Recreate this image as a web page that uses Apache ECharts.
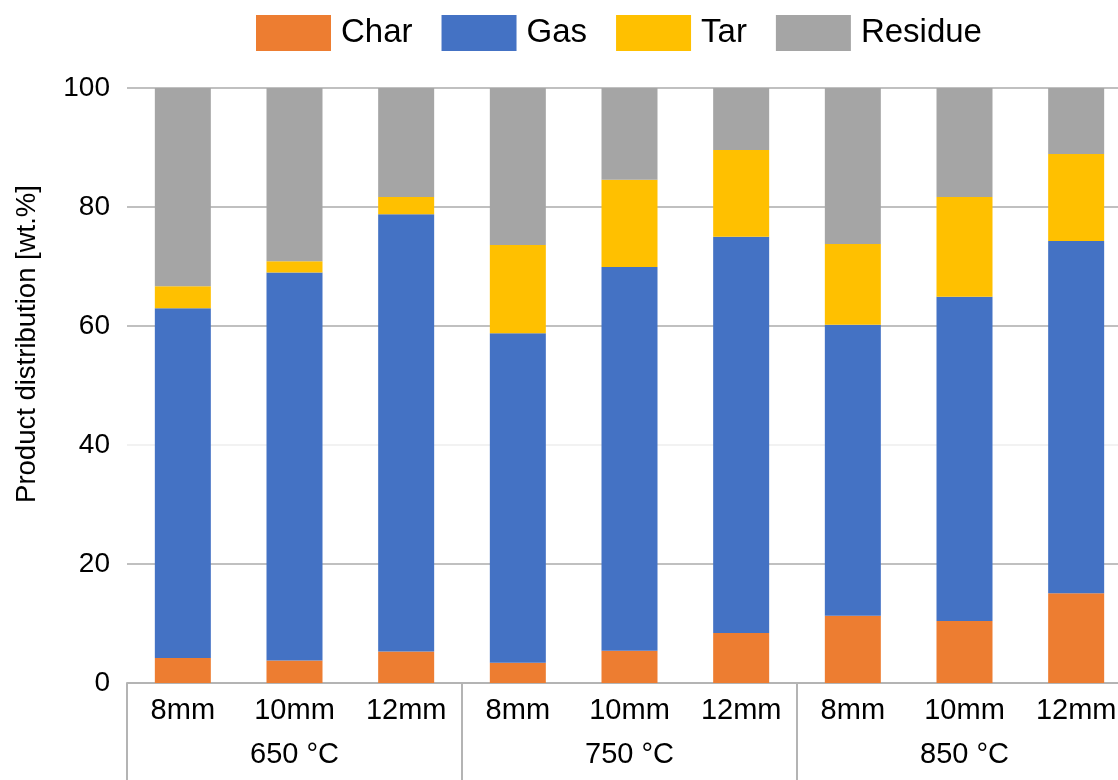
<!DOCTYPE html>
<html>
<head>
<meta charset="utf-8">
<script src="https://cdn.jsdelivr.net/npm/echarts@6/dist/echarts.min.js"></script>
<style>
  html, body { margin: 0; padding: 0; background: #fff; overflow: hidden; }
  /* plot runs past the right edge of the window, so the canvas is a bit wider */
  #chart { width: 1140px; height: 780px; }
</style>
</head>
<body>
<div id="chart"></div>
<script>
// Particle size under each temperature group
const sizes = ['8mm', '10mm', '12mm', '8mm', '10mm', '12mm', '8mm', '10mm', '12mm'];
const temperatures = ['650 °C', '750 °C', '850 °C'];
const yTicks = [0, 20, 40, 60, 80, 100];

// Product yields, wt.%
const charYield    = [4.2, 3.8, 5.3, 3.4, 5.4, 8.4, 11.3, 10.4, 15.1];
const gasYield     = [58.8, 65.2, 73.5, 55.4, 64.5, 66.6, 48.9, 54.5, 59.2];
const tarYield     = [3.7, 1.9, 2.9, 14.8, 14.7, 14.6, 13.6, 16.8, 14.6];
const residueYield = [33.3, 29.1, 18.3, 26.4, 15.4, 10.4, 26.2, 18.3, 11.1];

const FONT = '"Liberation Sans", Arial, sans-serif';
const AXIS_GREY = '#b4b4b4';

const chart = echarts.init(document.getElementById('chart'), null, { renderer: 'canvas' });

function barSeries(name, data, color) {
  return {
    name: name,
    type: 'bar',
    stack: 'total',
    xAxisIndex: 0,
    barWidth: 56,
    data: data,
    itemStyle: { color: color },
    emphasis: { disabled: true }
  };
}

chart.setOption({
  animation: false,
  textStyle: { fontFamily: FONT },
  legend: {
    left: 256,
    top: 15,
    padding: 0,
    itemWidth: 75,
    itemHeight: 36,
    itemGap: 29,
    icon: 'rect',
    textStyle: { fontSize: 33, color: '#000', fontFamily: FONT, padding: [0, 0, 0, 5] },
    data: ['Char', 'Gas', 'Tar', 'Residue']
  },
  grid: { left: 127, top: 88, width: 1005, height: 595, containLabel: false },
  xAxis: [
    {
      type: 'category',
      data: sizes,
      position: 'bottom',
      axisLine: { show: true, lineStyle: { color: AXIS_GREY, width: 2 } },
      axisTick: { show: false },
      axisLabel: { fontSize: 29, color: '#000', fontFamily: FONT, margin: 13, interval: 0 }
    },
    {
      type: 'category',
      data: temperatures,
      position: 'bottom',
      axisLine: { show: false },
      axisTick: { show: true, length: 100, interval: 0, lineStyle: { color: AXIS_GREY, width: 2 } },
      axisLabel: { fontSize: 29, color: '#000', fontFamily: FONT, margin: 57, interval: 0 }
    }
  ],
  yAxis: {
    type: 'value',
    min: yTicks[0],
    max: yTicks[yTicks.length - 1],
    interval: 20,
    axisLine: { show: false },
    axisTick: { show: false },
    axisLabel: { fontSize: 28, color: '#000', fontFamily: FONT, margin: 17 },
    splitLine: {
      lineStyle: {
        color: ['#c0c0c0', '#c0c0c0', '#f2f2f2', '#c0c0c0', '#c0c0c0', '#c0c0c0'],
        width: 2
      }
    }
  },
  graphic: [
    {
      type: 'text',
      x: 27,
      y: 344,
      rotation: Math.PI / 2,
      style: {
        text: 'Product distribution [wt.%]',
        fontSize: 27.5,
        fontFamily: FONT,
        fill: '#000',
        align: 'center',
        verticalAlign: 'middle'
      }
    }
  ],
  series: [
    barSeries('Char', charYield, '#ED7D31'),
    barSeries('Gas', gasYield, '#4472C4'),
    barSeries('Tar', tarYield, '#FFC000'),
    barSeries('Residue', residueYield, '#A5A5A5')
  ]
});
</script>
</body>
</html>
